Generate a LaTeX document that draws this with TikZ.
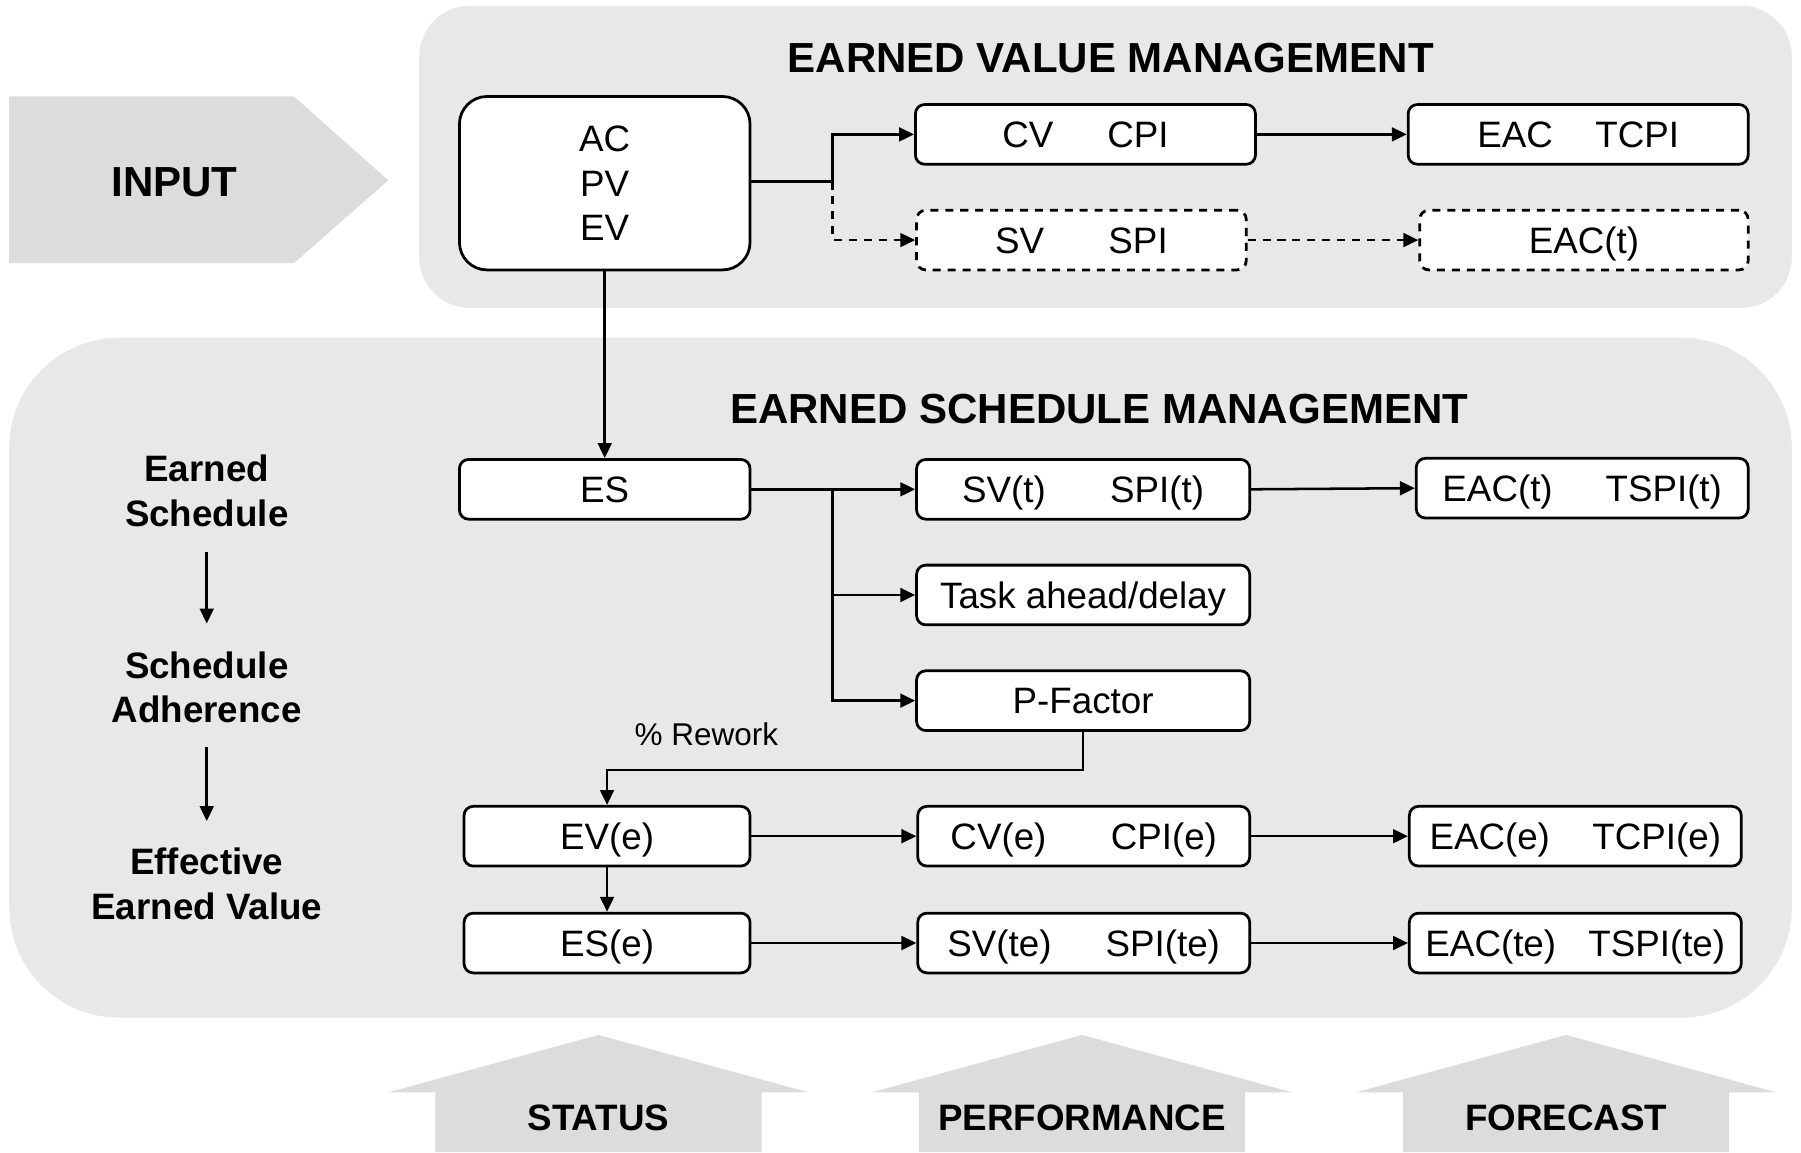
\documentclass[tikz,border=0pt]{standalone}
\usepackage{fontspec}
\setmainfont{Liberation Sans}
\usetikzlibrary{arrows.meta}

\definecolor{panelgray}{RGB}{232,232,232}
\definecolor{arrowgray}{RGB}{220,220,220}

\tikzset{
  box/.style={draw, line width=1.2pt, rounded corners=4pt, fill=white, inner sep=0pt,
    minimum height=26pt, font=\fontsize{16}{19.25}\selectfont,
    text height=11.5pt, text depth=0pt},
  dbox/.style={box, dash pattern=on 3.5pt off 3pt},
  arr/.style={-{Triangle[length=6.5pt,width=6pt]}, line width=1.1pt},
  darr/.style={arr, dash pattern=on 3.5pt off 3pt},
  title/.style={font=\fontsize{18.3}{22}\selectfont\bfseries, inner sep=0pt,
    text height=13.1pt, text depth=0pt},
  side/.style={font=\fontsize{16}{19.5}\selectfont\bfseries, align=center, inner sep=0pt},
  tag/.style={font=\fontsize{16}{19}\selectfont\bfseries, inner sep=0pt,
    text height=11.5pt, text depth=0pt},
}

\begin{document}
\begin{tikzpicture}[x=0.5pt, y=-0.5pt]
\useasboundingbox (0,0) rectangle (1568,1003);

% background panels
\fill[panelgray, rounded corners=22pt] (365,5) rectangle (1560,268);
\fill[panelgray, rounded corners=48pt] (8,294) rectangle (1560,886);

% input arrow
\fill[arrowgray] (8,84) -- (256,84) -- (338,157) -- (256,229) -- (8,229) -- cycle;
\node[font=\fontsize{18.3}{22}\selectfont\bfseries, inner sep=0pt,
  text height=13.1pt, text depth=0pt] (input) at (152,158) {INPUT};

% bottom arrows
\foreach \cx/\nm/\txt in {521/status/STATUS, 942/perf/PERFORMANCE, 1363.5/fore/FORECAST}{
  \fill[arrowgray] (\cx-142,1003) -- (\cx-142,951) -- (\cx-183,951) -- (\cx,901)
    -- (\cx+183,951) -- (\cx+142,951) -- (\cx+142,1003) -- cycle;
  \node[tag] (\nm) at (\cx,973) {\txt};
}

% titles
\node[title] (evm) at (967,50) {EARNED VALUE MANAGEMENT};
\node[title] (esm) at (957,356) {EARNED SCHEDULE MANAGEMENT};

% earned value management boxes
\node[draw, line width=1.2pt, rounded corners=12pt, fill=white, inner sep=0pt,
  minimum width=126.5pt, minimum height=75.5pt, align=center,
  font=\fontsize{16}{19.25}\selectfont] (in) at (526.5,159.5) {AC\\PV\\EV};
\node[box, minimum width=148pt] (cv) at (945,117) {CV\hspace{23.5pt}CPI};
\node[box, minimum width=148pt] (eac) at (1374,117) {EAC\hspace{18.5pt}TCPI};
\node[dbox, minimum width=143.5pt] (sv) at (941.5,209) {SV\hspace{28pt}SPI};
\node[dbox, minimum width=143pt] (eact) at (1379,209) {EAC(t)};

% earned schedule management boxes
\node[box, minimum width=126.5pt] (es) at (526.5,426) {ES};
\node[box, minimum width=145pt] (svt) at (943,426) {SV(t)\hspace{28pt}SPI(t)};
\node[box, minimum width=144.5pt] (eactt) at (1377.5,425) {EAC(t)\hspace{23pt}TSPI(t)};
\node[box, minimum width=145pt] (task) at (943,518) {Task ahead/delay};
\node[box, minimum width=145pt] (pf) at (943,610) {P-Factor};
\node[box, minimum width=124.5pt] (eve) at (528.5,728) {EV(e)};
\node[box, minimum width=124.5pt] (ese) at (528.5,821) {ES(e)};
\node[box, minimum width=144.5pt] (cve) at (943.5,728) {CV(e)\hspace{28pt}CPI(e)};
\node[box, minimum width=144.5pt] (eace) at (1371.5,728) {EAC(e)\hspace{18.5pt}TCPI(e)};
\node[box, minimum width=144.5pt] (svte) at (943.5,821) {SV(te)\hspace{23.5pt}SPI(te)};
\node[box, minimum width=144.5pt] (eacte) at (1371.5,821) {EAC(te)\hspace{14pt}TSPI(te)};

% side labels
\node[side] (l1) at (180,427) {Earned\\Schedule};
\node[side] (l2) at (180,598.5) {Schedule\\Adherence};
\node[side] (l3) at (180,769.5) {Effective\\Earned Value};
\draw[arr, shorten <=11pt, shorten >=12pt] (l1) -- (l2);
\draw[arr, shorten <=10pt, shorten >=11.5pt] (l2) -- (l3);

% connectors: earned value
\coordinate (j1) at (725,158);
\draw[line width=1.1pt] (in.east |- j1) -- (j1);
\draw[arr] (j1) |- (cv.west);
\draw[darr] (j1) |- (sv.west);
\draw[arr] (cv.east) -- (eac.west);
\draw[darr] (sv.east) -- (eact.west);
\draw[arr] (in.south) -- (es.north);

% connectors: earned schedule
\coordinate (j2) at (725,426);
\draw[arr] (es.east) -- (svt.west);
\draw[arr] (j2) |- (task.west);
\draw[arr] (j2) |- (pf.west);
\draw[arr] (svt.east) -- (eactt.west);
\draw[arr] (pf.south) -- ++(0,33) -| (eve.north);
\node[font=\fontsize{13.7}{16}\selectfont, inner sep=0pt] (rework) at (615,639) {\% Rework};
\draw[arr] (eve.south) -- (ese.north);
\draw[arr] (eve.east) -- (cve.west);
\draw[arr] (cve.east) -- (eace.west);
\draw[arr] (ese.east) -- (svte.west);
\draw[arr] (svte.east) -- (eacte.west);
\end{tikzpicture}
\end{document}
